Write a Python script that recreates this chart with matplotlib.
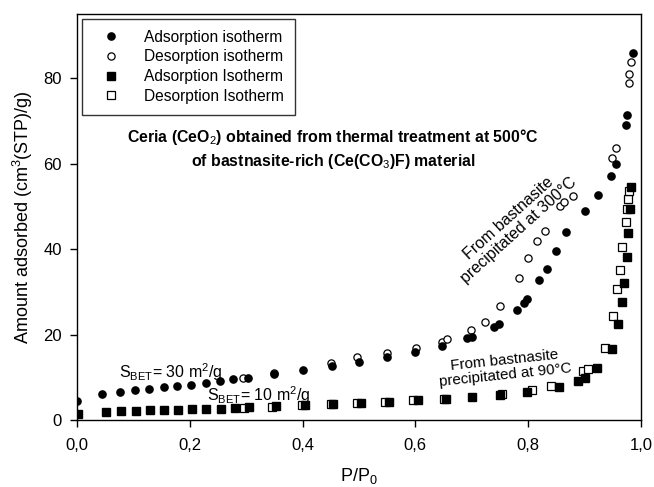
import matplotlib
matplotlib.use("Agg")
import matplotlib.pyplot as plt
from matplotlib.ticker import FuncFormatter

plt.rcParams['font.family'] = ['Liberation Sans', 'DejaVu Sans']
plt.rcParams['mathtext.fontset'] = 'custom'
plt.rcParams['mathtext.rm'] = 'Liberation Sans'
plt.rcParams['mathtext.it'] = 'Liberation Sans'
plt.rcParams['mathtext.bf'] = 'Liberation Sans:bold'

# Sample from bastnasite precipitated at 300 C (circles)
ads300_x = [0.0, 0.044, 0.077, 0.103, 0.128, 0.154, 0.178, 0.203, 0.229, 0.253, 0.277, 0.304,
            0.349, 0.401, 0.452, 0.50, 0.55, 0.60, 0.647, 0.692, 0.701, 0.739, 0.749, 0.781,
            0.792, 0.798, 0.82, 0.833, 0.849, 0.868, 0.901, 0.924, 0.947, 0.956, 0.973, 0.975, 0.986]
ads300_y = [4.4, 6.0, 6.55, 6.95, 7.25, 7.65, 7.95, 8.26, 8.73, 9.12, 9.52, 9.9,
            10.8, 11.8, 12.6, 13.6, 14.7, 15.8, 17.3, 19.1, 19.5, 21.8, 22.4, 25.7,
            27.4, 28.3, 32.7, 35.4, 39.5, 43.9, 49.0, 52.6, 57.2, 60.0, 69.1, 71.4, 85.8]

des300_x = [0.295, 0.35, 0.45, 0.497, 0.55, 0.602, 0.648, 0.657, 0.698, 0.723, 0.751, 0.783,
            0.799, 0.815, 0.83, 0.856, 0.864, 0.88, 0.949, 0.956, 0.978, 0.979, 0.982]
des300_y = [9.9, 10.9, 13.3, 14.8, 15.6, 16.9, 18.3, 18.9, 21.1, 23.0, 26.7, 33.3,
            37.8, 41.9, 44.2, 50.1, 51.1, 52.5, 61.2, 63.6, 78.8, 80.9, 83.8]

# Sample from bastnasite precipitated at 90 C (squares)
ads90_x = [0.002, 0.051, 0.078, 0.104, 0.129, 0.154, 0.179, 0.204, 0.229, 0.255, 0.28, 0.305,
           0.353, 0.405, 0.454, 0.504, 0.554, 0.604, 0.654, 0.70, 0.751, 0.798, 0.855, 0.888,
           0.9, 0.923, 0.948, 0.96, 0.966, 0.97, 0.975, 0.977, 0.98, 0.982]
ads90_y = [1.33, 1.87, 2.03, 2.18, 2.26, 2.34, 2.41, 2.49, 2.57, 2.65, 2.89, 2.96,
           3.19, 3.43, 3.74, 4.05, 4.29, 4.68, 4.99, 5.46, 5.85, 6.6, 7.64, 9.1,
           9.8, 12.1, 16.6, 22.5, 27.5, 32.0, 38.1, 43.8, 49.3, 54.6]

des90_x = [0.296, 0.346, 0.399, 0.45, 0.496, 0.546, 0.596, 0.65, 0.753, 0.807, 0.84, 0.898,
           0.906, 0.936, 0.951, 0.958, 0.963, 0.967, 0.973, 0.975, 0.977, 0.979]
des90_y = [2.89, 3.12, 3.43, 3.66, 3.98, 4.29, 4.68, 4.99, 6.0, 7.0, 7.95, 11.4,
           12.0, 16.8, 24.3, 30.6, 35.1, 40.5, 46.4, 49.3, 51.6, 53.6]

x_ticks = [0.0, 0.2, 0.4, 0.6, 0.8, 1.0]
y_ticks = [0, 20, 40, 60, 80]

fig = plt.figure(figsize=(6.54, 4.87), dpi=100)
ax = fig.add_axes([0.1177, 0.1376, 0.8623, 0.8336])

ms = 5.2
ax.plot(ads300_x, ads300_y, 'o', color='black', ms=ms, mec='black', label='Adsorption isotherm', zorder=3)
ax.plot(des300_x, des300_y, 'o', mfc='white', mec='black', mew=0.9, ms=ms, label='Desorption isotherm', zorder=2)
ax.plot(ads90_x, ads90_y, 's', color='black', ms=ms, mec='black', label='Adsorption Isotherm', zorder=3)
ax.plot(des90_x, des90_y, 's', mfc='white', mec='black', mew=0.9, ms=ms, label='Desorption Isotherm', zorder=2)

ax.set_xlim(0, 1.0)
ax.set_ylim(0, 95)
ax.set_xticks(x_ticks)
ax.set_yticks(y_ticks)
ax.xaxis.set_major_formatter(FuncFormatter(lambda v, p: f"{v:.1f}".replace('.', ',')))
ax.tick_params(axis='both', direction='out', length=5, width=1, labelsize=12, colors='black', pad=6)
ax.tick_params(axis='x', pad=8)
for s in ax.spines.values():
    s.set_linewidth(1.0)

ax.set_xlabel('P/P$_0$', fontsize=13, labelpad=9)
ax.set_ylabel('Amount adsorbed (cm$^3$(STP)/g)', fontsize=13, labelpad=6)

leg = ax.legend(loc='upper left', bbox_to_anchor=(0.009, 0.988), borderaxespad=0,
                frameon=True, fancybox=False,
                fontsize=11.2, handletextpad=1.0, handlelength=2.3, borderpad=0.7,
                labelspacing=0.3, edgecolor='black')
leg.get_frame().set_linewidth(1.0)

ax.text(0.454, 0.667, 'Ceria (CeO$_2$) obtained from thermal treatment at 500°C\nof bastnasite-rich (Ce(CO$_3$)F) material',
        transform=ax.transAxes, ha='center', va='center', fontsize=11.4, fontweight='bold',
        linespacing=1.35, multialignment='center')

ax.text(0.774, 45.8, 'From bastnasite\nprecipitated at 300°C', ha='center', va='center',
        rotation=42, fontsize=11.5, multialignment='center', linespacing=1.0)
ax.text(0.759, 12.2, 'From bastnasite\nprecipitated at 90°C', ha='center', va='center',
        rotation=6, fontsize=10.9, multialignment='center', linespacing=1.1)

ax.text(0.075, 11.3, 'S$_{\\mathrm{BET}}$= 30 m$^2$/g', ha='left', va='center', fontsize=11.5)
ax.text(0.23, 5.9, 'S$_{\\mathrm{BET}}$= 10 m$^2$/g', ha='left', va='center', fontsize=11.5)

fig.savefig('out.png', dpi=100)
